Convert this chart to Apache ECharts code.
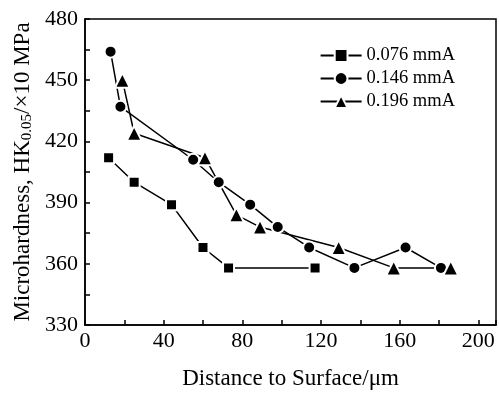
<!DOCTYPE html>
<html>
<head>
<meta charset="utf-8">
<script src="https://cdn.jsdelivr.net/npm/echarts@6/dist/echarts.min.js"></script>
<style>
  html, body { margin: 0; padding: 0; background: #fff; }
  #chart { width: 499px; height: 395px; }
</style>
</head>
<body>
<div id="chart"></div>
<script>
// [distance (um), microhardness]
const s076 = [[12, 412], [25, 400], [44, 389], [60, 368], [73, 358], [117, 358]];
const s146 = [[13, 464], [18, 437], [55, 411], [68, 400], [84, 389], [98, 378], [114, 368], [137, 358], [163, 368], [181, 358]];
const s196 = [[19, 450], [25, 424], [61, 412], [77, 384], [89, 378], [129, 368], [157, 358], [186, 358]];
const seriesNames = ['0.076 mmA', '0.146 mmA', '0.196 mmA'];

const FONT = 'Liberation Serif';
const chart = echarts.init(document.getElementById('chart'));

function line(name, data, symbol, size) {
  return {
    name: name,
    type: 'line',
    data: data,
    symbol: symbol,
    symbolSize: size,
    showAllSymbol: true,
    lineStyle: { color: '#000', width: 1.5 },
    itemStyle: { color: '#000', borderColor: '#fff', borderWidth: 2 },
    emphasis: { disabled: true },
    animation: false
  };
}

chart.setOption({
  backgroundColor: '#fff',
  animation: false,
  grid: {
    left: 85, top: 19, right: 2, bottom: 68,
    show: true, borderColor: '#000', borderWidth: 1.5, backgroundColor: 'transparent'
  },
  legend: {
    orient: 'vertical',
    right: 39,
    top: 41,
    itemWidth: 41,
    itemHeight: 16,
    itemGap: 4,
    data: seriesNames,
    textStyle: { fontFamily: FONT, fontSize: 18.5, color: '#000' }
  },
  xAxis: {
    type: 'value',
    min: 0, max: 209, interval: 40,
    name: 'Distance to Surface/μm',
    nameLocation: 'middle',
    nameGap: 42,
    nameTextStyle: { fontFamily: FONT, fontSize: 23, color: '#000' },
    axisLine: { lineStyle: { color: '#000', width: 1.5 } },
    axisTick: { inside: true, length: 5, lineStyle: { color: '#000', width: 1.5 } },
    minorTick: { show: true, splitNumber: 2, length: 5, lineStyle: { color: '#000', width: 1.5 } },
    axisLabel: { fontFamily: FONT, fontSize: 22, color: '#000', margin: 5, showMaxLabel: true,
      formatter: v => (v % 40 === 0 ? String(v) : '') },
    splitLine: { show: false }
  },
  yAxis: {
    type: 'value',
    min: 330, max: 480, interval: 30,
    name: 'Microhardness, HK{sub|0.05}/×10 MPa',
    nameLocation: 'middle',
    nameGap: 50,
    nameTextStyle: {
      fontFamily: FONT, fontSize: 23, color: '#000',
      rich: { sub: { fontFamily: FONT, fontSize: 15, color: '#000', verticalAlign: 'bottom', padding: [7, 0, 0, 0] } }
    },
    axisLine: { lineStyle: { color: '#000', width: 1.5 } },
    axisTick: { inside: true, length: 5, lineStyle: { color: '#000', width: 1.5 } },
    minorTick: { show: true, splitNumber: 2, length: 5, lineStyle: { color: '#000', width: 1.5 } },
    axisLabel: { fontFamily: FONT, fontSize: 22, color: '#000', margin: 7 },
    splitLine: { show: false }
  },
  series: [
    line(seriesNames[0], s076, 'rect', 11),
    line(seriesNames[1], s146, 'circle', 12),
    line(seriesNames[2], s196, 'triangle', 15)
  ]
});
</script>
</body>
</html>
